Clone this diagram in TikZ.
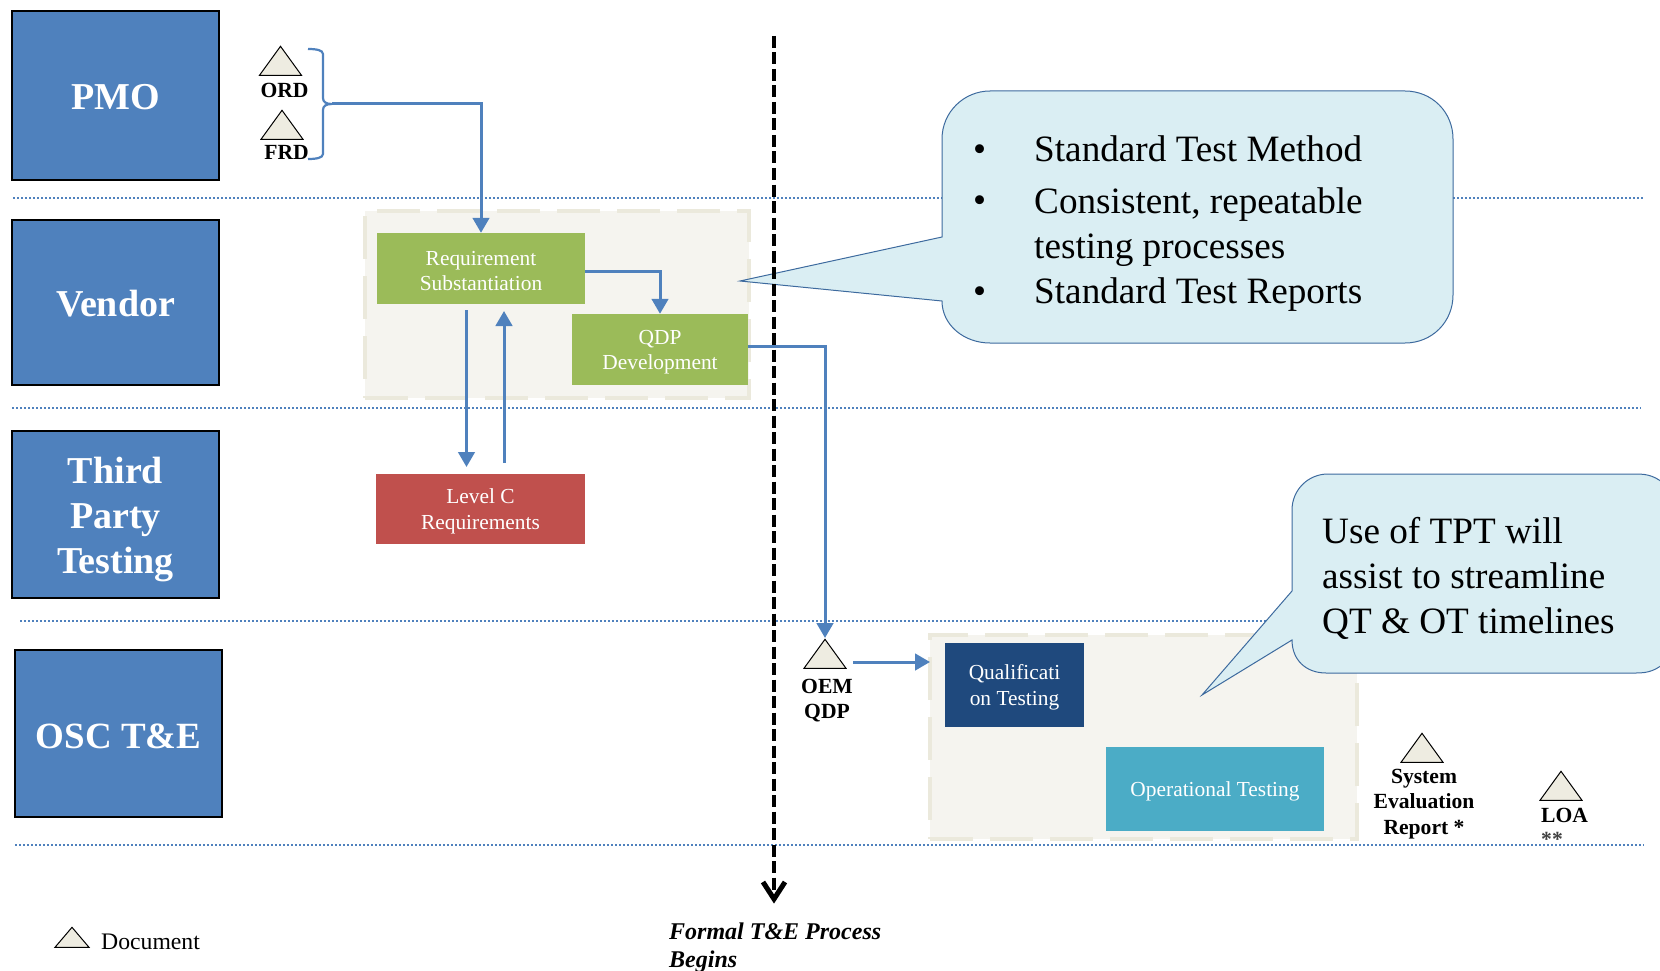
\documentclass[tikz,border=0pt]{standalone}
\usepackage{fontspec}
\setmainfont{Liberation Serif}
\usetikzlibrary{arrows.meta,shapes.geometric,calc}
\definecolor{lane}{HTML}{4F81BD}
\definecolor{wrapfill}{HTML}{F5F4EF}
\definecolor{wrapline}{HTML}{EBE9DC}
\definecolor{docfill}{HTML}{EEECE1}
\definecolor{calloutfill}{HTML}{DAEEF3}
\definecolor{calloutline}{HTML}{3D6A9E}
\definecolor{greenbox}{HTML}{9BBB59}
\definecolor{redbox}{HTML}{C0504D}
\definecolor{navybox}{HTML}{1F497D}
\definecolor{tealbox}{HTML}{4BACC6}
\tikzset{
 x=1pt,y=-1pt,
 lanebox/.style={draw=black,line width=2.4pt,fill=lane,inner sep=0pt},
 lanetext/.style={text=white,align=center,inner sep=0pt,font=\fontsize{38}{44.8}\selectfont\bfseries},
 taskbox/.style={fill=#1,inner sep=0pt},
 tasktext/.style={text=white,align=center,inner sep=0pt,yshift=-2.4pt,font=\fontsize{21.4}{25.3}\selectfont},
 wrapbox/.style={draw=wrapline,fill=wrapfill,line width=4.5pt,dash pattern=on 43pt off 17pt},
 lanerule/.style={draw=lane,line width=1.6pt,dash pattern=on 2pt off 2pt},
 flow/.style={draw=lane,line width=3pt,-{Triangle[width=16.5pt,length=15pt]}},
 plainflow/.style={draw=lane,line width=2.2pt},
 doc/.style={isosceles triangle,isosceles triangle stretches,shape border rotate=90,draw=black,fill=docfill,line width=1pt,inner sep=0pt,minimum width=42pt,minimum height=29pt,anchor=apex},
 doclabel/.style={align=center,inner sep=0pt,font=\fontsize{21.6}{25.5}\selectfont\bfseries},
 callout/.style={draw=calloutline,fill=calloutfill,line width=1pt},
 calltext/.style={anchor=base west,inner sep=0pt,align=left,font=\fontsize{37.2}{45}\selectfont},
}
\begin{document}
\begin{tikzpicture}
\useasboundingbox (0,0) rectangle (1660,971);
% lanes
\coordinate (r1a) at (13,198); \coordinate (r1b) at (1643,198);
\coordinate (r2a) at (12,408); \coordinate (r2b) at (1641,408);
\coordinate (r3a) at (20,621); \coordinate (r3b) at (1270,621);
\coordinate (r4a) at (15,845); \coordinate (r4b) at (1644,845);
\draw[lanerule] (r1a) -- (r1b);
\draw[lanerule] (r2a) -- (r2b);
\draw[lanerule] (r3a) -- (r3b);
\draw[lanerule] (r4a) -- (r4b);
% lane boxes
\node[lanebox,minimum width=207pt,minimum height=169pt,label={[lanetext,yshift=-1.5pt]center:PMO}] (pmo) at (115.5,95.5) {};
\node[lanebox,minimum width=207pt,minimum height=165pt,label={[lanetext,yshift=-1pt]center:Vendor}] (vendor) at (115.5,302.5) {};
\node[lanebox,minimum width=207pt,minimum height=167pt,label={[lanetext,yshift=-5pt]center:{Third\\Party\\Testing}}] (third) at (115.5,514.5) {};
\node[lanebox,minimum width=207pt,minimum height=167pt,label={[lanetext,yshift=-2.5pt,font=\fontsize{37}{44.8}\selectfont\bfseries]center:{OSC T\&E}}] (osc) at (118.5,733.5) {};
% containers
\node[wrapbox,minimum width=384pt,minimum height=187pt,inner sep=0pt] (wrapa) at (557,304.5) {};
\node[wrapbox,minimum width=427pt,minimum height=204pt,inner sep=0pt] (wrapb) at (1143.5,737) {};
% task boxes
\node[taskbox=greenbox,minimum width=208pt,minimum height=71pt,label={[tasktext]center:{Requirement\\Substantiation}}] (req) at (481,268.5) {};
\node[taskbox=greenbox,minimum width=176pt,minimum height=71pt,label={[tasktext]center:{QDP\\Development}}] (qdp) at (660,349.5) {};
\node[taskbox=redbox,minimum width=209pt,minimum height=70pt,label={[tasktext]center:{Level C\\Requirements}}] (lvlc) at (480.5,509) {};
\node[taskbox=navybox,minimum width=139pt,minimum height=84pt,label={[tasktext]center:{Qualificati\\on Testing}}] (qual) at (1014.5,685) {};
\node[taskbox=tealbox,minimum width=218pt,minimum height=84pt,label={[tasktext]center:Operational Testing}] (opt) at (1215,789) {};
% documents
\node[doc] (ord) at (280.5,45) {};
\node[doc] (frd) at (282,109) {};
\node[doc] (oem) at (825,638) {};
\node[doc] (ser) at (1422,732) {};
\node[doc] (loa) at (1561,770) {};
\node[doc,minimum width=34pt,minimum height=20pt] (leg) at (72,926) {};
\node[doclabel] (ordt) at (284.5,90) {ORD};
\node[doclabel] (frdt) at (286.5,152) {FRD};
\node[doclabel] (oemt) at (827,700.5) {OEM\\QDP};
\node[doclabel] (sert) at (1424,804) {System\\Evaluation\\Report *};
\node[doclabel,anchor=west] (loat) at (1541,815) {LOA};
\node[doclabel,anchor=west,text=black!75] (loas) at (1541,839) {**};
\node[anchor=west,inner sep=0pt,font=\fontsize{23.7}{25}\selectfont] (legt) at (101,942) {Document};
\node[anchor=north west,inner sep=0pt,align=left,font=\fontsize{24}{28.5}\selectfont\bfseries\itshape] (formal) at (669,922.5) {Formal T\&E Process\\Begins};
% callout 1
\draw[callout] (942,237) -- (740,281) -- (942,301) .. controls (942,325) and (964,343) .. (990,343) -- (1405,343) .. controls (1432,343) and (1453,322) .. (1453,295) -- (1453,139) .. controls (1453,112) and (1432,91) .. (1405,91) -- (990,91) .. controls (964,91) and (942,112) .. (942,139) -- cycle;
% formal process line
\coordinate (fa) at (774,36);
\coordinate (fb) at (774,902);
\draw[black,line width=4.8pt,dash pattern=on 12pt off 4.5pt] (fa) -- ($(fb)+(0,-8)$);
\draw[black,line width=5pt,line join=miter] (763,882) -- (774,899) -- (785,882);
% callout 2
\draw[callout] (1292,591) -- (1202,695) -- (1292,640) .. controls (1292,660) and (1306,673) .. (1326,673) -- (1636,673) .. controls (1648,673) and (1656,671) .. (1668,660) -- (1668,487) .. controls (1656,476) and (1648,474) .. (1636,474) -- (1328,474) .. controls (1308,474) and (1292,490) .. (1292,510) -- cycle;
\node[calltext] (c1b1) at (973,161.5) {•};
\node[calltext] (c1t1) at (1034,161.5) {Standard Test Method};
\node[calltext] (c1b2) at (973,212) {•};
\node[calltext] (c1t2) at (1034,258.5) {Consistent, repeatable\\testing processes};
\node[calltext] (c1b3) at (973,303.5) {•};
\node[calltext] (c1t3) at (1034,303.5) {Standard Test Reports};
\node[calltext] (c2t) at (1322,633) {Use of TPT will\\assist to streamline\\QT \& OT timelines};
% connectors
\coordinate (bra) at (308,49);
\coordinate (brb) at (308,159);
\coordinate (brm) at (332,104);
\draw[plainflow] (bra) .. controls (316,49) and (323,50) .. (323,54) -- (323,98) .. controls (323,102) and (326,104) .. (brm) .. controls (326,104) and (323,106) .. (323,110) -- (323,154) .. controls (323,158) and (316,159) .. (brb);
\draw[flow] (brm) -| (req.north);
\draw[flow] (req.east |- 0,271) -| (qdp.north);
\draw[flow] (466.5,310) -- (466.5,467);
\draw[flow] (504,463) -- (504,311);
\draw[flow] (qdp.east |- 0,346) -| (oem.apex);
\draw[flow] (853,662) -- (930,662);
\end{tikzpicture}
\end{document}
